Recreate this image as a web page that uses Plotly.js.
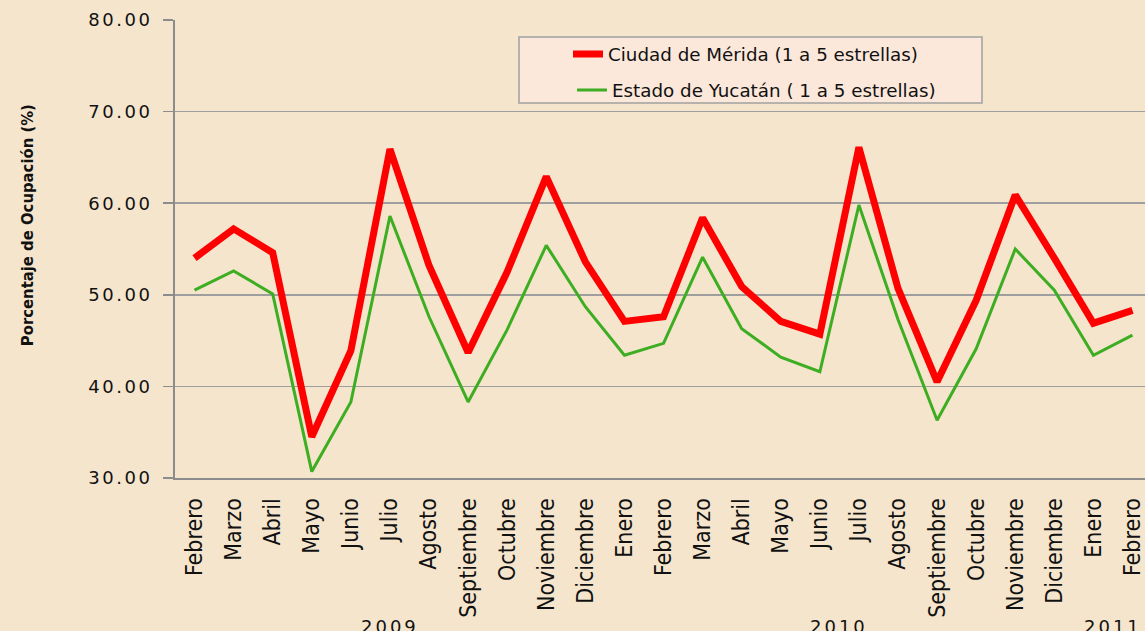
<!DOCTYPE html>
<html>
<head>
<meta charset="utf-8">
<script src="https://cdn.plot.ly/plotly-3.0.1.min.js"></script>
<style>
  html, body { margin: 0; padding: 0; background: #F5E5CD; }
  #chart { width: 1145px; height: 631px; }
  .ytick text { letter-spacing: 2.5px; }
  .annotation:not([data-index="0"]) text { letter-spacing: 3px; }
</style>
</head>
<body>
<div id="chart"></div>
<script>
// ---- Data ----
const months = ["Febrero","Marzo","Abril","Mayo","Junio","Julio","Agosto","Septiembre","Octubre","Noviembre","Diciembre",
                "Enero","Febrero","Marzo","Abril","Mayo","Junio","Julio","Agosto","Septiembre","Octubre","Noviembre","Diciembre",
                "Enero","Febrero"];
const years = ["2009","2010","2011"];
const monthsPerYear = [11, 12, 2];
const merida = [54.0,57.2,54.6,34.5,43.9,65.9,53.2,43.7,52.5,62.9,53.6,
                47.1,47.6,58.4,50.9,47.1,45.7,66.1,50.7,40.5,49.4,60.9,54.0,
                46.9,48.3];
const yucatan = [50.5,52.6,50.1,30.7,38.3,58.6,47.6,38.3,46.2,55.4,48.7,
                 43.4,44.7,54.1,46.3,43.2,41.6,59.8,47.3,36.3,44.1,55.0,50.5,
                 43.4,45.6];
const seriesNames = ["Ciudad de Mérida (1 a 5 estrellas)", "Estado de Yucatán ( 1 a 5 estrellas)"];
const yTitle = "Porcentaje de Ocupación (%)";
const yTicks = [30,40,50,60,70,80];

const xIdx = months.map((_, i) => i);

// year label positions (centre of each year's month span)
let start = 0;
const yearCenters = monthsPerYear.map(n => { const c = start + (n - 1) / 2; start += n; return c; });

const traces = [
  { x: xIdx, y: merida, type: 'scatter', mode: 'lines', name: seriesNames[0],
    line: { color: '#FF0000', width: 7 }, legend: 'legend' },
  { x: xIdx, y: yucatan, type: 'scatter', mode: 'lines', name: seriesNames[1],
    line: { color: '#3DAE22', width: 3 }, legend: 'legend2' }
];

const annotations = [
  { text: yTitle, xref: 'paper', yref: 'paper', x: -0.1526, y: 0.552, textangle: -90,
    xanchor: 'center', yanchor: 'middle', showarrow: false,
    font: { family: 'Liberation Sans Narrow, DejaVu Sans Condensed, sans-serif', size: 16.5, color: '#111', weight: 'bold' } }
].concat(years.map((yr, i) => ({
  text: yr, xref: 'x', yref: 'paper', x: yearCenters[i], y: -0.297, xanchor: 'center', yanchor: 'top',
  showarrow: false, font: { family: 'DejaVu Sans, Verdana, sans-serif', size: 18, color: '#111' }
})));

const layout = {
  width: 1145, height: 631,
  margin: { l: 175, r: 0, t: 20, b: 153 },
  paper_bgcolor: '#F5E5CD',
  plot_bgcolor: 'rgba(0,0,0,0)',
  showlegend: true,
  xaxis: {
    range: [-0.5, 24.32],
    tickmode: 'array', tickvals: xIdx, ticktext: months,
    tickangle: -90, showgrid: false, zeroline: false,
    showline: true, linecolor: '#8C8C8C', linewidth: 2,
    ticks: '', ticklabelstandoff: 9,
    tickfont: { family: 'Liberation Sans Narrow, DejaVu Sans Condensed, sans-serif', size: 23, color: '#111' }
  },
  yaxis: {
    range: [30, 80], tickmode: 'array', tickvals: yTicks,
    ticktext: yTicks.map(v => v.toFixed(2)),
    showgrid: true, gridcolor: '#9E9E9E', gridwidth: 1.5, zeroline: false,
    showline: true, linecolor: '#8C8C8C', linewidth: 2,
    ticks: 'outside', ticklen: 10, tickcolor: '#8C8C8C', tickwidth: 1.5,
    ticklabelstandoff: 7,
    tickfont: { family: 'DejaVu Sans, Verdana, sans-serif', size: 18, color: '#111' }
  },
  shapes: [
    { type: 'rect', xref: 'paper', yref: 'paper', layer: 'below',
      x0: (519 - 175) / 970, x1: (982 - 175) / 970, y0: (478 - 103) / 458, y1: (478 - 37) / 458,
      fillcolor: '#FBE8DA', line: { color: '#A0A0A0', width: 1.5 } }
  ],
  legend: {
    x: (568 - 175) / 970, xanchor: 'left', y: (478 - 54) / 458, yanchor: 'middle',
    bgcolor: 'rgba(0,0,0,0)', borderwidth: 0,
    font: { family: 'DejaVu Sans, Verdana, sans-serif', size: 18.3, color: '#111' }
  },
  legend2: {
    x: (572 - 175) / 970, xanchor: 'left', y: (478 - 90) / 458, yanchor: 'middle',
    bgcolor: 'rgba(0,0,0,0)', borderwidth: 0,
    font: { family: 'DejaVu Sans, Verdana, sans-serif', size: 18.3, color: '#111' }
  },
  annotations: annotations
};

Plotly.newPlot('chart', traces, layout, { displayModeBar: false, staticPlot: true });
</script>
</body>
</html>
